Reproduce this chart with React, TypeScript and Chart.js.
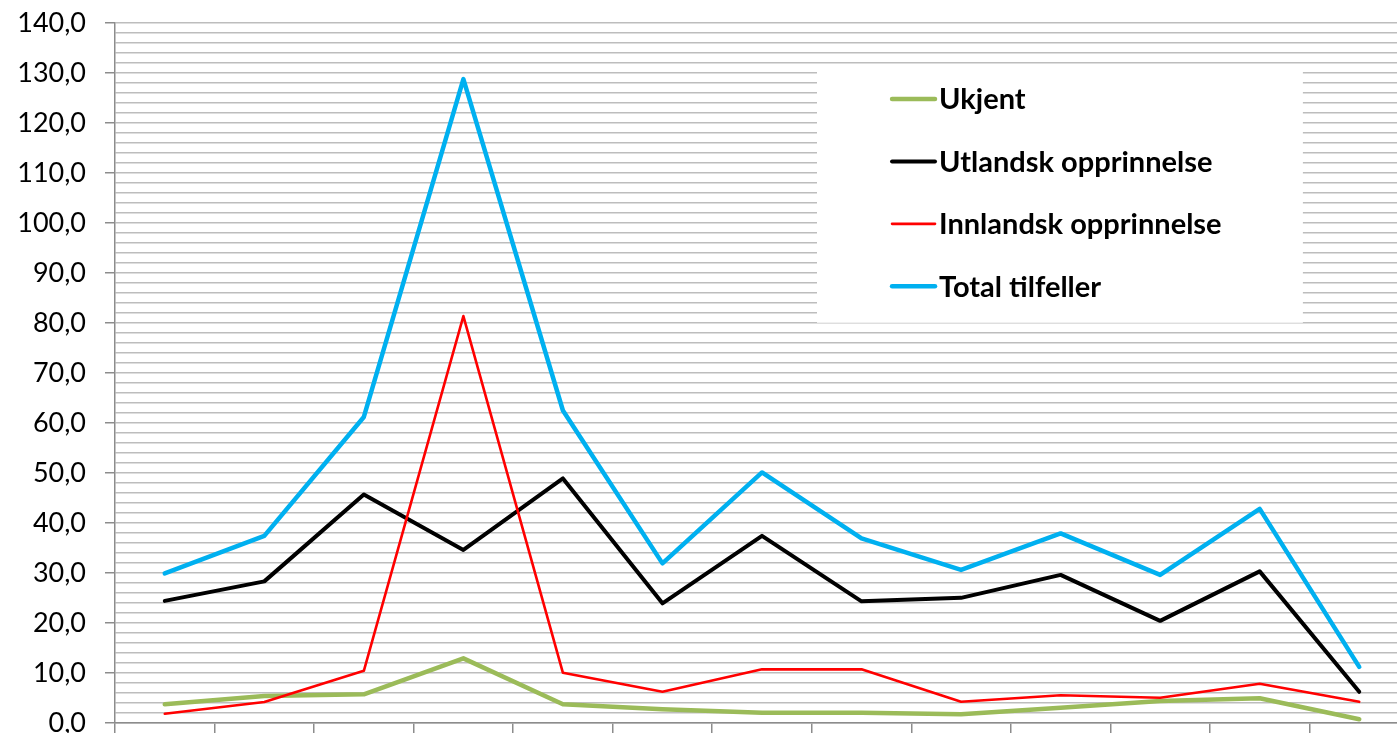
import React, { useEffect, useRef } from 'react';
import { Chart, registerables } from 'chart.js';

Chart.register(...registerables);

// ---- Data ----
const categories = ['1', '2', '3', '4', '5', '6', '7', '8', '9', '10', '11', '12', '13'];
const ukjent = [3.7, 5.35, 5.7, 12.9, 3.7, 2.7, 2.0, 2.0, 1.7, 3.0, 4.35, 4.9, 0.7];
const utlandsk = [24.4, 28.3, 45.7, 34.6, 48.9, 23.9, 37.4, 24.3, 25.0, 29.6, 20.4, 30.3, 6.2];
const innlandsk = [1.8, 4.15, 10.4, 81.4, 10.0, 6.2, 10.7, 10.7, 4.2, 5.5, 5.0, 7.8, 4.2];
const total = [29.9, 37.4, 61.2, 128.8, 62.5, 31.9, 50.1, 36.9, 30.6, 37.9, 29.6, 42.8, 11.2];
const seriesNames = ['Ukjent', 'Utlandsk opprinnelse', 'Innlandsk opprinnelse', 'Total tilfeller'];
const yMin = 0;
const yMax = 140;
const yStep = 2;
const yLabelStep = 10;

const fmt = (v: number) => v.toFixed(1).replace('.', ',');

const legendPlugin = {
  id: 'boxLegend',
  beforeDatasetsDraw(chart: any) {
    const { ctx, chartArea } = chart;
    const w = chartArea.right - chartArea.left;
    const h = chartArea.bottom - chartArea.top;
    const bx0 = chartArea.left + w * 0.5425;
    const bx1 = chartArea.left + w * 0.918;
    const by0 = chartArea.top + h * 0.0587;
    const by1 = chartArea.top + h * 0.4282;
    ctx.save();
    ctx.fillStyle = '#ffffff';
    ctx.fillRect(bx0, by0, bx1 - bx0, by1 - by0);
    const sx0 = chartArea.left + w * 0.6005;
    const sx1 = chartArea.left + w * 0.6337;
    const tx = chartArea.left + w * 0.6368;
    const firstRow = by0 + 34.8;
    const rowGap = 62.4;
    ctx.font = 'bold 29px Lato';
    ctx.textBaseline = 'middle';
    ctx.textAlign = 'left';
    chart.data.datasets.forEach((ds: any, i: number) => {
      const yy = firstRow + i * rowGap;
      ctx.strokeStyle = ds.borderColor;
      ctx.lineWidth = ds.borderWidth;
      ctx.lineCap = 'round';
      ctx.beginPath();
      ctx.moveTo(sx0, yy);
      ctx.lineTo(sx1, yy);
      ctx.stroke();
      ctx.fillStyle = '#000000';
      ctx.fillText(ds.label, tx, yy + 1);
    });
    ctx.restore();
  },
};

export default function App() {
  const ref = useRef<HTMLCanvasElement | null>(null);
  useEffect(() => {
    document.body.style.margin = '0';
    const canvas = ref.current;
    if (!canvas) return;
    const chart = new Chart(canvas, {
      type: 'line',
      data: {
        labels: categories,
        datasets: [
          { label: seriesNames[0], data: ukjent, borderColor: '#9BBB59', borderWidth: 4.5, order: 3 },
          { label: seriesNames[1], data: utlandsk, borderColor: '#000000', borderWidth: 4, order: 2 },
          { label: seriesNames[2], data: innlandsk, borderColor: '#FF0000', borderWidth: 2.6, order: 1 },
          { label: seriesNames[3], data: total, borderColor: '#00B0F0', borderWidth: 4.5, order: 0 },
        ].map((d) => ({
          ...d,
          pointRadius: 0,
          pointHoverRadius: 0,
          tension: 0,
          fill: false,
          borderJoinStyle: 'round' as const,
          borderCapStyle: 'round' as const,
        })),
      },
      options: {
        responsive: false,
        animation: false,
        devicePixelRatio: 1,
        layout: { padding: { top: 23, right: 1, left: 0, bottom: 0 } },
        plugins: {
          legend: { display: false },
          tooltip: { enabled: false },
        },
        scales: {
          x: {
            offset: true,
            ticks: { display: false },
            grid: {
              offset: true,
              drawOnChartArea: false,
              drawTicks: true,
              tickLength: 11,
              color: '#8c8c8c',
              lineWidth: 1.5,
            },
            border: { color: '#8c8c8c', width: 1.5 },
          },
          y: {
            min: yMin,
            max: yMax,
            ticks: {
              stepSize: yStep,
              maxTicksLimit: 200,
              autoSkip: false,
              padding: 19,
              color: '#000000',
              font: { family: 'Lato', size: 27 },
              callback: (v: any) => (Number(v) % yLabelStep === 0 ? fmt(Number(v)) : ''),
            },
            grid: {
              color: '#bdbdbd',
              lineWidth: 1.5,
              tickLength: 10,
              tickColor: (c: any) =>
                c.tick && c.tick.value % yLabelStep === 0 ? '#8c8c8c' : 'rgba(0,0,0,0)',
            },
            border: { color: '#8c8c8c', width: 1.5 },
            afterFit: (s: any) => {
              s.width = 115;
            },
          },
        },
      },
      plugins: [legendPlugin],
    });
    return () => chart.destroy();
  }, []);
  return (
    <div style={{ width: 1397, height: 733, overflow: 'hidden', position: 'relative', background: '#fff' }}>
      <canvas
        ref={ref}
        width={1410}
        height={770}
        style={{ display: 'block', position: 'absolute', left: 0, top: -12 }}
      />
    </div>
  );
}
